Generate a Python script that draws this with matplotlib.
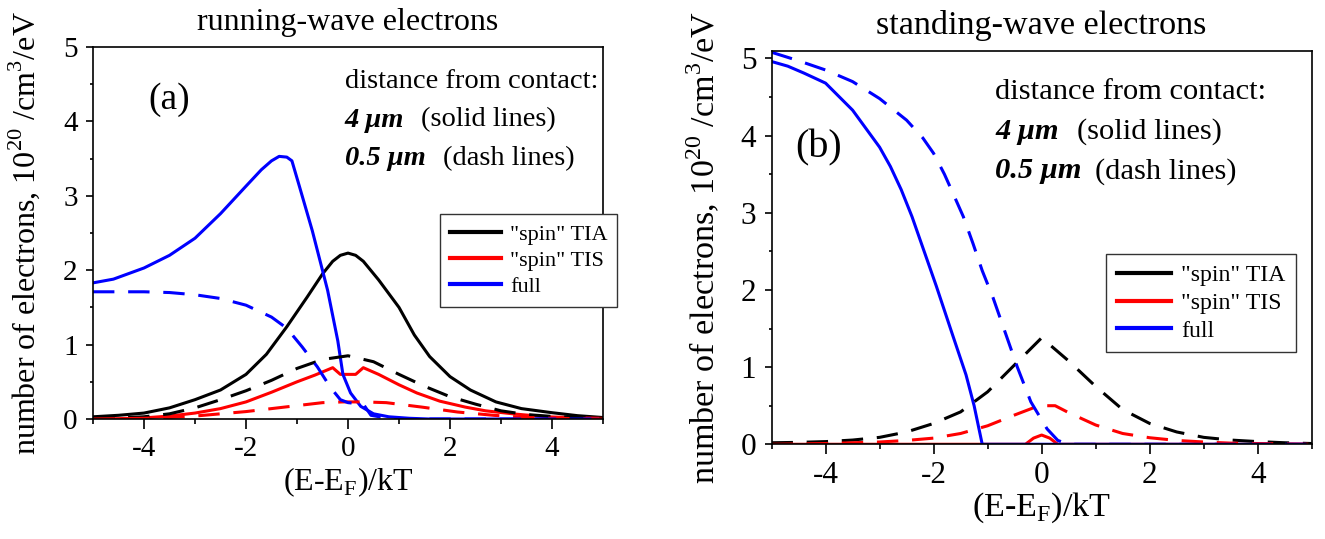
import matplotlib
matplotlib.use("Agg")
import matplotlib.pyplot as plt
from matplotlib.ticker import MultipleLocator

plt.rcParams['font.family'] = ['Liberation Serif', 'DejaVu Serif']
plt.rcParams['mathtext.fontset'] = 'custom'
plt.rcParams['mathtext.rm'] = 'Liberation Serif'
plt.rcParams['axes.unicode_minus'] = False

# ---- panel (a): running-wave electrons ----
a_tia_solid_x = [-5, -4.5, -4, -3.5, -3, -2.5, -2, -1.6, -1.2, -0.8, -0.5, -0.3, -0.15, 0, 0.15, 0.3, 0.6, 1.0, 1.3, 1.6, 2.0, 2.4, 2.9, 3.4, 4.0, 4.5, 5]
a_tia_solid_y = [0.03, 0.05, 0.08, 0.15, 0.26, 0.39, 0.6, 0.87, 1.24, 1.64, 1.95, 2.12, 2.2, 2.23, 2.2, 2.12, 1.87, 1.5, 1.13, 0.84, 0.57, 0.39, 0.23, 0.14, 0.085, 0.045, 0.02]
a_tis_solid_x = [-5, -4.5, -4, -3.5, -3, -2.5, -2, -1.5, -1.0, -0.65, -0.3, -0.15, 0.15, 0.3, 0.6, 1.0, 1.35, 1.8, 2.3, 2.7, 3.3, 3.9, 4.5, 5]
a_tis_solid_y = [0.0, 0.005, 0.015, 0.04, 0.08, 0.14, 0.23, 0.36, 0.5, 0.59, 0.69, 0.6, 0.6, 0.69, 0.6, 0.46, 0.35, 0.24, 0.16, 0.11, 0.065, 0.03, 0.015, 0.01]
a_full_solid_x = [-5, -4.6, -4, -3.5, -3, -2.5, -2, -1.7, -1.5, -1.35, -1.2, -1.1, -0.95, -0.7, -0.4, -0.2, -0.1, 0.05, 0.25, 0.5, 0.8, 1.2, 1.6, 5]
a_full_solid_y = [1.83, 1.88, 2.03, 2.2, 2.43, 2.76, 3.13, 3.35, 3.47, 3.53, 3.52, 3.47, 3.12, 2.53, 1.73, 1.05, 0.6, 0.35, 0.17, 0.07, 0.03, 0.01, 0.0, 0.0]
a_tia_dash_x = [-5, -4.5, -4, -3.5, -3, -2.5, -2, -1.5, -1, -0.5, 0, 0.5, 1, 1.5, 2, 2.5, 3, 3.5, 4, 4.5, 5]
a_tia_dash_y = [0.01, 0.015, 0.03, 0.07, 0.15, 0.26, 0.38, 0.52, 0.68, 0.8, 0.85, 0.77, 0.6, 0.44, 0.3, 0.2, 0.11, 0.06, 0.035, 0.02, 0.01]
a_tis_dash_x = [-5, -4, -3.5, -3, -2.5, -2, -1.5, -1, -0.5, -0.1, 0.3, 0.75, 1.45, 2.15, 2.85, 3.5, 4, 5]
a_tis_dash_y = [0.0, 0.01, 0.02, 0.04, 0.07, 0.1, 0.14, 0.18, 0.22, 0.23, 0.23, 0.22, 0.16, 0.094, 0.05, 0.02, 0.01, 0.0]
a_full_dash_x = [-5, -4, -3.5, -3, -2.5, -2, -1.5, -1.2, -0.9, -0.6, -0.35, -0.15, 0, 0.3, 0.45, 0.7, 1.0, 5]
a_full_dash_y = [1.71, 1.71, 1.70, 1.67, 1.62, 1.53, 1.37, 1.22, 0.97, 0.7, 0.43, 0.26, 0.22, 0.2, 0.05, 0.02, 0.0, 0.0]

# ---- panel (b): standing-wave electrons ----
b_tia_solid_x = [-5, 0, 5]
b_tia_solid_y = [0, 0, 0]
b_tis_solid_x = [-5, -0.3, -0.15, 0, 0.15, 0.3, 5]
b_tis_solid_y = [0, 0, 0.08, 0.12, 0.08, 0, 0]
b_full_solid_x = [-5, -4.7, -4.4, -4, -3.5, -3, -2.8, -2.6, -2.4, -2.2, -1.95, -1.65, -1.4, -1.25, -1.1, 5]
b_full_solid_y = [4.96, 4.9, 4.81, 4.68, 4.33, 3.85, 3.6, 3.3, 2.95, 2.55, 2.05, 1.42, 0.9, 0.5, 0.0, 0.0]
b_tia_dash_x = [-5, -4.5, -4, -3.5, -3, -2.5, -2, -1.5, -1, -0.5, 0, 0.5, 1, 1.5, 2, 2.5, 3, 3.5, 4, 4.5, 5]
b_tia_dash_y = [0.02, 0.025, 0.035, 0.055, 0.09, 0.16, 0.27, 0.42, 0.68, 1.03, 1.38, 1.08, 0.75, 0.45, 0.27, 0.16, 0.09, 0.055, 0.035, 0.02, 0.01]
b_tis_dash_x = [-5, -4, -3.5, -3, -2.5, -2, -1.5, -1, -0.5, -0.05, 0.25, 0.5, 1, 1.5, 2, 2.5, 3, 3.5, 4, 5]
b_tis_dash_y = [0, 0.01, 0.02, 0.03, 0.05, 0.08, 0.14, 0.24, 0.38, 0.5, 0.5, 0.41, 0.25, 0.14, 0.085, 0.05, 0.03, 0.015, 0.01, 0]
b_full_dash_x = [-5, -4.5, -4, -3.5, -3, -2.5, -2.2, -2, -1.8, -1.64, -1.45, -1.27, -1.1, -0.9, -0.7, -0.45, -0.2, 0.1, 0.3, 0.5, 5]
b_full_dash_y = [5.08, 4.97, 4.85, 4.7, 4.48, 4.2, 3.97, 3.77, 3.5, 3.25, 2.95, 2.6, 2.25, 1.9, 1.5, 1.0, 0.55, 0.2, 0.05, 0.0, 0.0]

legend_labels = ['"spin" TIA', '"spin" TIS', 'full']
colors = ['black', 'red', 'blue']
xlabel = r'(E-E$_\mathregular{F}$)/kT'
ylabel = r'number of electrons, 10$^\mathregular{20}$ /cm$^\mathregular{3}$/eV'

LW = 2.2
DASH = (7, 4.5)


def draw_panel(ax, solid, dashed, title, tag, ymax, s, tag_xy, leg_xy, text_x, text_y, paren_x):
    # solid curves first, dashed on top
    for (x, y), c, lab in zip(solid, colors, legend_labels):
        ax.plot(x, y, color=c, lw=LW, label=lab, solid_joinstyle='round')
    for (x, y), c in zip(dashed, colors):
        ax.plot(x, y, color=c, lw=LW, dashes=DASH)

    ax.set_xlim(-5, 5)
    ax.set_ylim(0, ymax)
    ax.xaxis.set_major_locator(MultipleLocator(2))
    ax.xaxis.set_minor_locator(MultipleLocator(1))
    ax.yaxis.set_major_locator(MultipleLocator(1))
    ax.yaxis.set_minor_locator(MultipleLocator(0.5))
    ax.tick_params(which='both', direction='out', top=False, right=False, width=1.2)
    ax.tick_params(axis='x', which='major', length=7, pad=5, labelsize=21 * s)
    ax.tick_params(axis='x', which='minor', length=3.5)
    ax.tick_params(axis='y', which='major', length=5, pad=6, labelsize=21 * s)
    ax.tick_params(axis='y', which='minor', length=2.5)
    for sp in ax.spines.values():
        sp.set_linewidth(1.2)

    ax.set_xlabel(xlabel, fontsize=23 * s)
    ax.set_ylabel(ylabel, fontsize=23 * s)
    ax.set_title(title, fontsize=23 * s, pad=12)

    ax.text(tag_xy[0], tag_xy[1], tag, transform=ax.transAxes, fontsize=27 * s)
    ax.text(text_x, text_y[0], 'distance from contact:', transform=ax.transAxes, fontsize=20.5 * s)
    ax.text(text_x, text_y[1], '4 \u03bcm', transform=ax.transAxes, fontsize=20.5 * s,
            fontweight='bold', fontstyle='italic')
    ax.text(paren_x[0], text_y[1], '(solid lines)', transform=ax.transAxes, fontsize=20.5 * s)
    ax.text(text_x, text_y[2], '0.5 \u03bcm', transform=ax.transAxes, fontsize=20.5 * s,
            fontweight='bold', fontstyle='italic')
    ax.text(paren_x[1], text_y[2], '(dash lines)', transform=ax.transAxes, fontsize=20.5 * s)

    leg = ax.legend(loc='upper left', bbox_to_anchor=leg_xy, borderaxespad=0,
                    fontsize=16 * s, fancybox=False, framealpha=1, edgecolor='#333333',
                    handlelength=2.3, handletextpad=0.4, labelspacing=0.25, borderpad=0.45)
    leg.get_frame().set_linewidth(1.0)
    for line in leg.get_lines():
        line.set_linewidth(3.0)
    leg.set_clip_on(False)


fig = plt.figure(figsize=(13.25, 5.39), dpi=100)
ax_a = fig.add_axes([0.0702, 0.2226, 0.3849, 0.6902])
ax_b = fig.add_axes([0.5823, 0.1757, 0.4077, 0.7302])

draw_panel(ax_a,
           [(a_tia_solid_x, a_tia_solid_y), (a_tis_solid_x, a_tis_solid_y), (a_full_solid_x, a_full_solid_y)],
           [(a_tia_dash_x, a_tia_dash_y), (a_tis_dash_x, a_tis_dash_y), (a_full_dash_x, a_full_dash_y)],
           'running-wave electrons', '(a)', 5, 1.0,
           tag_xy=(0.108, 0.833), leg_xy=(0.680, 0.551),
           text_x=0.494, text_y=(0.891, 0.786, 0.683), paren_x=(0.644, 0.687))
ax_a.yaxis.set_label_coords(-0.10, 0.5)
ax_a.xaxis.set_label_coords(0.5, -0.125)

draw_panel(ax_b,
           [(b_tia_solid_x, b_tia_solid_y), (b_tis_solid_x, b_tis_solid_y), (b_full_solid_x, b_full_solid_y)],
           [(b_tia_dash_x, b_tia_dash_y), (b_tis_dash_x, b_tis_dash_y), (b_full_dash_x, b_full_dash_y)],
           'standing-wave electrons', '(b)', 5.1, 1.07,
           tag_xy=(0.0435, 0.73), leg_xy=(0.619, 0.4835),
           text_x=0.414, text_y=(0.877, 0.776, 0.676), paren_x=(0.565, 0.599))
ax_b.yaxis.set_label_coords(-0.092, 0.5)
ax_b.xaxis.set_label_coords(0.5, -0.118)

fig.savefig('out.png', dpi=100)
